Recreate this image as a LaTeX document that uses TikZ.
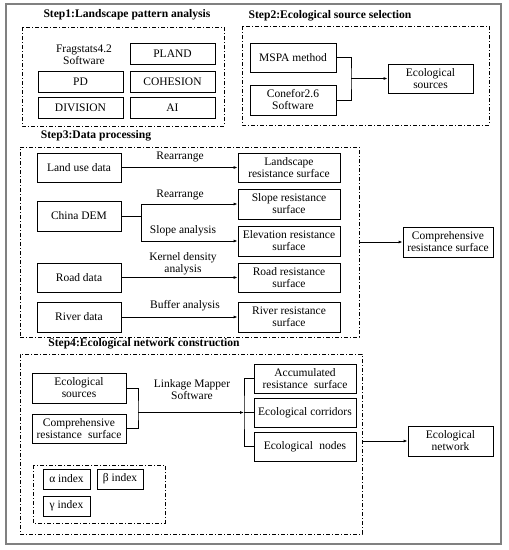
\documentclass[tikz,border=0pt]{standalone}
\usepackage{fontspec}
\setmainfont{Liberation Serif}
\usetikzlibrary{arrows.meta}
\tikzset{
  frame/.style={draw, line width=0.7pt, dash pattern=on 4pt off 2pt on 1pt off 2pt},
  box/.style={draw, line width=0.8pt, inner sep=0pt, align=center},
  lbl/.style={inner sep=0pt, align=center},
  title/.style={inner sep=0pt, font=\fontsize{11.6}{12}\selectfont\bfseries},
  link/.style={line width=0.8pt},
  arr/.style={line width=0.8pt, -{Latex[length=4pt,width=3pt]}}
}
\begin{document}
\begin{tikzpicture}[x=1pt, y=-1pt, font=\fontsize{11.5}{12}\selectfont]
	\useasboundingbox (0,0) rectangle (509,550);
	\draw [gray, line width=1.5pt] (6,4) rectangle (501,544);
	% step 1
		\node [title] (t1) at (127,15) {Step1:Landscape pattern analysis};
		\draw [frame] (22,27) rectangle (224,126);
		\node [lbl] (frag) at (84,55) {Fragstats4.2\\Software};
		\node [box, minimum width=85, minimum height=21] (pland) at (172.5,53.5) {PLAND};
		\node [box, minimum width=85, minimum height=21] (pd) at (80.5,81.5) {PD};
		\node [box, minimum width=85, minimum height=21] (cohesion) at (172.5,81.5) {COHESION};
		\node [box, minimum width=85, minimum height=21] (division) at (80.5,108) {DIVISION};
		\node [box, minimum width=85, minimum height=21] (ai) at (172.5,108) {AI};
	% step 2
		\node [title] (t2) at (330,16) {Step2:Ecological source selection};
		\draw [frame] (242,26) rectangle (489,125);
		\node [box, minimum width=86, minimum height=29] (mspa) at (293,57.5) {MSPA method};
		\node [box, minimum width=86, minimum height=30] (conefor) at (293,100) {Conefor2.6\\Software};
		\node [box, minimum width=85, minimum height=29] (sources) at (430.5,78.5) {Ecological\\sources};
		\coordinate (j2) at (351,78.5);
		\draw [link] (mspa.east) -| (j2) |- (conefor.east);
		\draw [arr] (j2) -- (sources.west);
	% step 3
		\node [title] (t3) at (96,136) {Step3:Data processing};
		\node [frame, minimum width=339, minimum height=190] (s3) at (189.5,242) {};
		\node [box, minimum width=84, minimum height=29] (land) at (79,167.5) {Land use data};
		\node [box, minimum width=102, minimum height=29] (landres) at (289,167.5) {Landscape\\resistance surface};
		\node [box, minimum width=84, minimum height=30] (dem) at (79,216) {China DEM};
		\node [box, minimum width=102, minimum height=30] (sloperes) at (289,204) {Slope resistance\\surface};
		\node [box, minimum width=102, minimum height=30] (elevres) at (289,241) {Elevation resistance\\surface};
		\node [box, minimum width=84, minimum height=29] (road) at (79,277.5) {Road data};
		\node [box, minimum width=102, minimum height=29] (roadres) at (289,277.5) {Road resistance\\surface};
		\node [box, minimum width=84, minimum height=30] (river) at (79,317) {River data};
		\node [box, minimum width=102, minimum height=30] (riverres) at (289,317) {River resistance\\surface};
		\node [box, minimum width=90, minimum height=30] (comp) at (448,242) {Comprehensive\\resistance surface};
		\coordinate (j3) at (141,216);
		\draw [arr] (land.east) -- (landres.west);
		\draw [link] (dem.east) -- (j3);
		\draw [arr] (j3) |- (sloperes.west);
		\draw [arr] (j3) |- (elevres.west);
		\draw [arr] (road.east) -- (roadres.west);
		\draw [arr] (river.east) -- (riverres.west);
		\draw [arr] (s3.east) -- (comp.west);
		\node [lbl] (l1) at (180,157) {Rearrange};
		\node [lbl] (l2) at (180,195) {Rearrange};
		\node [lbl] (l3) at (183,231) {Slope analysis};
		\node [lbl] (l4) at (183,264) {Kernel density\\analysis};
		\node [lbl] (l5) at (185,306) {Buffer analysis};
	% step 4
		\node [title] (t4) at (144,344) {Step4:Ecological network construction};
		\node [frame, minimum width=342, minimum height=180] (s4) at (191,444) {};
		\node [box, minimum width=94, minimum height=30] (esrc) at (79,388) {Ecological\\sources};
		\node [box, minimum width=94, minimum height=29] (cres) at (79,428.5) {Comprehensive\\resistance\hspace{0.3em} surface};
		\node [box, minimum width=102, minimum height=29] (accres) at (305,378.5) {Accumulated\\resistance\hspace{0.3em} surface};
		\node [box, minimum width=102, minimum height=29] (corr) at (305,412.5) {Ecological corridors};
		\node [box, minimum width=102, minimum height=29] (enodes) at (305,446.5) {Ecological\hspace{0.3em} nodes};
		\node [box, minimum width=85, minimum height=30] (network) at (450.5,441) {Ecological\\network};
		\node [lbl] (l6) at (192,390) {Linkage Mapper\\Software};
		\coordinate (j4) at (138,412.5);
		\coordinate (b4) at (244,412.5);
		\draw [link] (esrc.east) -| (j4) |- (cres.east);
		\draw [arr] (j4) -- (b4);
		\draw [link] (accres.west) -| (b4) |- (enodes.west);
		\draw [link] (b4) -- (corr.west);
		\draw [arr] (s4.east |- network.west) -- (network.west);
	% network indices
		\draw [frame] (33,465) rectangle (165,523);
		\node [box, minimum width=47, minimum height=20] (alpha) at (66.5,479) {α index};
		\node [box, minimum width=46, minimum height=20] (beta) at (120,479) {β index};
		\node [box, minimum width=47, minimum height=20] (gamma) at (66.5,506) {γ index};
\end{tikzpicture}
\end{document}
